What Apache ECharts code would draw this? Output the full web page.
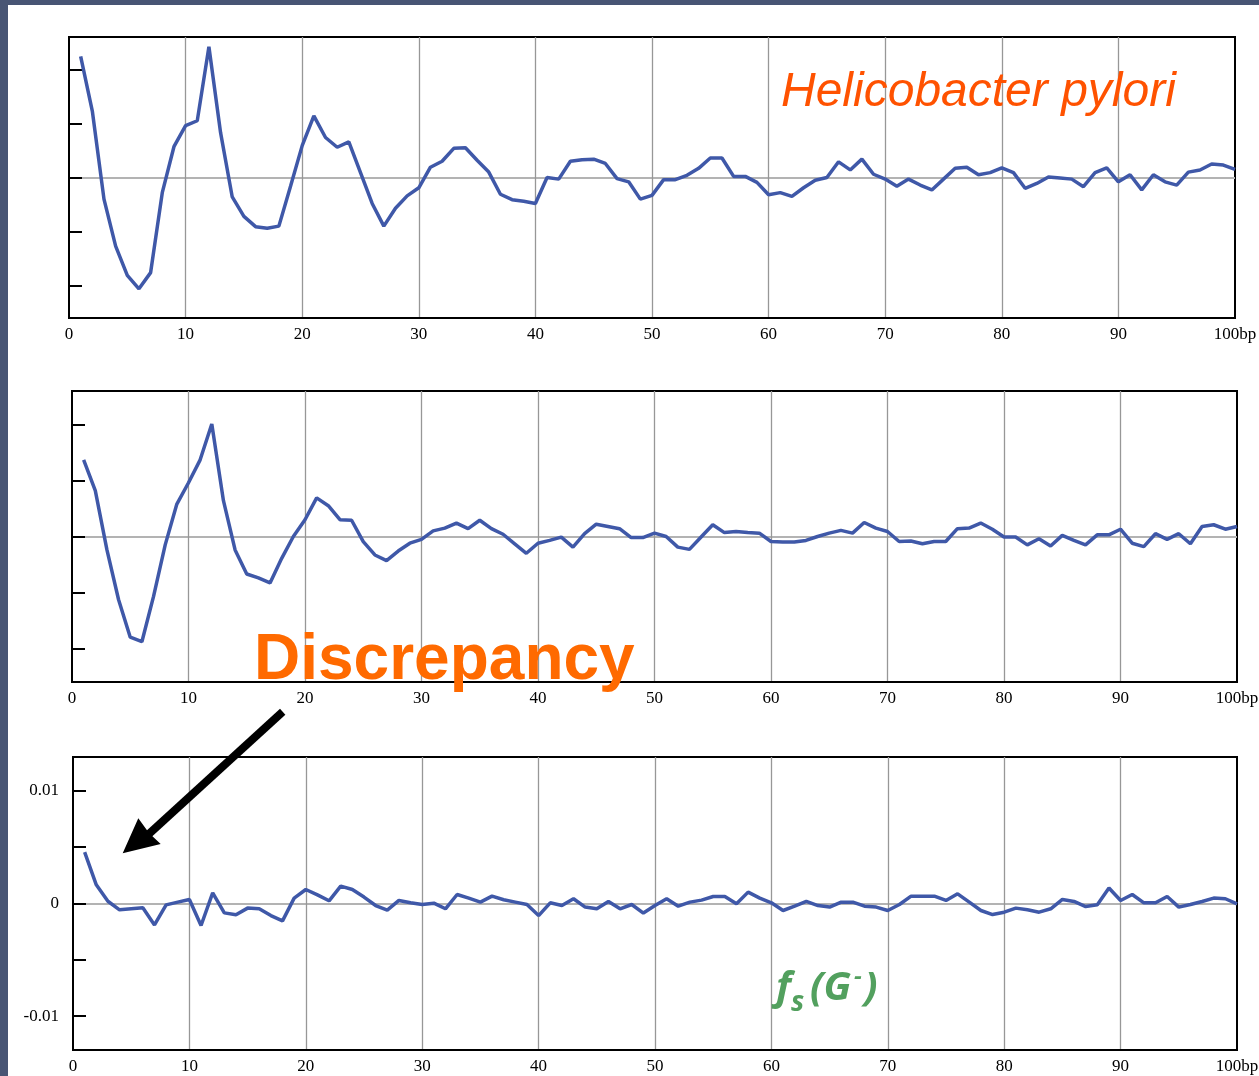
<!DOCTYPE html>
<html>
<head>
<meta charset="utf-8">
<style>
  html, body { margin: 0; padding: 0; background: #ffffff; }
  #chart { width: 1259px; height: 1076px; }
</style>
<script src="https://cdn.jsdelivr.net/npm/echarts@6/dist/echarts.min.js"></script>
</head>
<body>
<div id="chart"></div>
<script>
// Positions along the sequence (bp)
const positions = [1,2,3,4,5,6,7,8,9,10,11,12,13,14,15,16,17,18,19,20,
  21,22,23,24,25,26,27,28,29,30,31,32,33,34,35,36,37,38,39,40,
  41,42,43,44,45,46,47,48,49,50,51,52,53,54,55,56,57,58,59,60,
  61,62,63,64,65,66,67,68,69,70,71,72,73,74,75,76,77,78,79,80,
  81,82,83,84,85,86,87,88,89,90,91,92,93,94,95,96,97,98,99,100];

// Top panel (Helicobacter pylori), arbitrary units (1 = one tick)
const helicoValues = [2.24,1.23,-0.40,-1.27,-1.81,-2.06,-1.76,-0.28,0.57,0.96,
  1.05,2.42,0.83,-0.36,-0.72,-0.91,-0.94,-0.90,-0.16,0.59,
  1.14,0.74,0.56,0.66,0.09,-0.48,-0.90,-0.57,-0.34,-0.19,
  0.19,0.30,0.54,0.55,0.32,0.10,-0.31,-0.41,-0.44,-0.48,
  0.00,-0.03,0.30,0.33,0.34,0.26,-0.02,-0.08,-0.40,-0.33,
  -0.04,-0.04,0.04,0.17,0.36,0.36,0.02,0.02,-0.09,-0.32,
  -0.28,-0.35,-0.19,-0.05,0.00,0.29,0.14,0.34,0.06,-0.03,
  -0.16,-0.03,-0.14,-0.23,-0.03,0.17,0.19,0.05,0.09,0.18,
  0.09,-0.20,-0.11,0.01,-0.01,-0.03,-0.17,0.09,0.18,-0.08,
  0.05,-0.23,0.05,-0.08,-0.14,0.10,0.14,0.25,0.23,0.15];

// Middle panel, arbitrary units (1 = one tick)
const middleValues = [1.37,0.82,-0.24,-1.13,-1.80,-1.88,-1.07,-0.15,0.58,0.96,
  1.37,2.01,0.64,-0.24,-0.67,-0.74,-0.83,-0.39,0.00,0.30,
  0.69,0.55,0.30,0.29,-0.09,-0.33,-0.43,-0.26,-0.12,-0.05,
  0.10,0.15,0.24,0.14,0.29,0.14,0.04,-0.13,-0.30,-0.12,
  -0.07,-0.01,-0.19,0.05,0.22,0.18,0.14,-0.02,-0.02,0.06,
  0.00,-0.19,-0.23,-0.01,0.21,0.07,0.09,0.07,0.06,-0.09,
  -0.10,-0.10,-0.07,0.00,0.06,0.11,0.06,0.25,0.15,0.09,
  -0.09,-0.08,-0.13,-0.09,-0.09,0.14,0.15,0.24,0.13,-0.01,
  -0.01,-0.15,-0.04,-0.17,0.02,-0.07,-0.15,0.03,0.03,0.13,
  -0.12,-0.18,0.05,-0.05,0.05,-0.13,0.18,0.21,0.13,0.18];

// Bottom panel f_s(G-)
const fsValues = [0.00456,0.00166,0.0002,-0.00056,-0.00047,-0.00038,-0.0019,-0.00012,0.00012,0.00036,
  -0.00195,0.00095,-0.00083,-0.001,-0.00041,-0.00047,-0.00107,-0.00154,0.00048,0.00124,
  0.00077,0.00024,0.00154,0.00124,0.00057,-0.00018,-0.00059,0.00027,0.00006,-0.00009,
  0.00003,-0.00047,0.0008,0.00048,0.00012,0.00065,0.00033,0.00012,-0.00009,-0.00107,
  0.00006,-0.00018,0.00042,-0.00032,-0.00047,0.00018,-0.00047,-0.00009,-0.00085,-0.00018,
  0.00042,-0.00024,0.00012,0.0003,0.00062,0.00062,-0.00003,0.00101,0.00048,0.00006,
  -0.00062,-0.00024,0.00018,-0.00018,-0.00032,0.00012,0.00012,-0.00024,-0.00032,-0.00062,
  -0.00009,0.00065,0.00065,0.00065,0.00027,0.00086,0.00012,-0.00062,-0.00098,-0.00077,
  -0.00041,-0.00056,-0.00077,-0.00047,0.00036,0.00018,-0.00027,-0.00012,0.00137,0.00027,
  0.0008,0.00006,0.00006,0.00062,-0.00032,-0.00009,0.00018,0.00048,0.00042,-0.00003];

// Axis ticks / labels
const xTickValues = [0,10,20,30,40,50,60,70,80,90,100];
const topTicks = [-2,-1,0,1,2];
const bottomTicks = [-0.01,-0.005,0,0.005,0.01];
const bottomTickLabels = [-0.01,0,0.01];
const bottomLabelText = {'-0.01':'-0.01','0':'0','0.01':'0.01'};

const LINE_COLOR = '#3f58a8';
const SERIF = "'Liberation Serif','Times New Roman',serif";

function pairs(vals){ return positions.map((p,i)=>[p, vals[i]]); }

function xAxisFor(gi){
  return {
    type:'value', gridIndex:gi, min:0, max:100, interval:10, position:'bottom',
    axisLine:{show:true, onZero:false, lineStyle:{color:'#000', width:2}},
    axisTick:{show:false},
    axisLabel:{
      color:'#000', fontFamily:SERIF, fontSize:17, margin:8,
      customValues:xTickValues,
      formatter:(v)=> v===100 ? '100bp' : String(v)
    },
    splitLine:{show:true, showMinLine:false, showMaxLine:false, lineStyle:{color:'#979797', width:1.3}}
  };
}
function yAxisMain(gi, min, max, ticks, labels){
  return {
    type:'value', gridIndex:gi, min:min, max:max, position:'left',
    axisLine:{show:true, onZero:false, lineStyle:{color:'#000', width:2}},
    axisTick:{show:true, inside:true, length:13, customValues:ticks, lineStyle:{color:'#000', width:2}},
    axisLabel: labels ? {
      show:true, color:'#000', fontFamily:SERIF, fontSize:17, margin:14,
      customValues:labels,
      formatter:(v)=> bottomLabelText[String(Math.round(v*1000)/1000)] ?? String(v)
    } : {show:false},
    splitLine:{show:false}
  };
}
function yAxisZero(gi){
  return {
    type:'value', gridIndex:gi, min:-1, max:1, interval:1, position:'left',
    axisLine:{show:false, onZero:false}, axisTick:{show:false}, axisLabel:{show:false},
    splitLine:{show:true, showMinLine:false, showMaxLine:false, lineStyle:{color:'#b3b3b3', width:2}}
  };
}

const chart = echarts.init(document.getElementById('chart'), null, {renderer:'canvas'});

const gridBase = {show:true, borderColor:'#000', borderWidth:2, backgroundColor:'transparent', containLabel:false, outerBoundsMode:'none'};

const option = {
  animation:false,
  backgroundColor:'#ffffff',
  grid:[
    Object.assign({left:69, top:37, width:1166, height:281}, gridBase),
    Object.assign({left:72, top:391, width:1165, height:291}, gridBase),
    Object.assign({left:73, top:757, width:1164, height:293}, gridBase)
  ],
  xAxis:[xAxisFor(0), xAxisFor(1), xAxisFor(2)],
  yAxis:[
    yAxisZero(0), yAxisMain(0, -2.6, 2.6, topTicks, null),
    yAxisZero(1), yAxisMain(1, -2.6, 2.6, topTicks, null),
    yAxisZero(2), yAxisMain(2, -0.0130, 0.0130, bottomTicks, bottomTickLabels)
  ],
  series:[
    {type:'line', xAxisIndex:0, yAxisIndex:1, data:pairs(helicoValues), showSymbol:false, symbol:'none', z:5,
      lineStyle:{color:LINE_COLOR, width:3.5}},
    {type:'line', xAxisIndex:1, yAxisIndex:3, data:pairs(middleValues), showSymbol:false, symbol:'none', z:5,
      lineStyle:{color:LINE_COLOR, width:3.5}},
    {type:'line', xAxisIndex:2, yAxisIndex:5, data:pairs(fsValues), showSymbol:false, symbol:'none', z:5,
      lineStyle:{color:LINE_COLOR, width:3.5}}
  ],
  graphic:[
    {type:'rect', left:0, top:0, shape:{x:0,y:0,width:1259,height:5}, style:{fill:'#485574'}, z:100},
    {type:'rect', left:0, top:0, shape:{x:0,y:0,width:8,height:1076}, style:{fill:'#485574'}, z:100},
    {type:'text', x:781, y:93, z:100, style:{text:'Helicobacter pylori', fill:'#ff5200',
      font:"italic 48px 'Liberation Sans', Arial, sans-serif", textVerticalAlign:'middle', textAlign:'left'}},
    {type:'text', x:254, y:661, z:100, style:{text:'Discrepancy', fill:'#ff6a00',
      font:"bold 64px 'Liberation Sans', Arial, sans-serif", textVerticalAlign:'middle', textAlign:'left'}},
    {type:'text', x:776, y:989, z:100, style:{text:'f', fill:'#52a05e',
      font:"italic bold 40px 'Open Sans', sans-serif", textVerticalAlign:'middle', textAlign:'left'}},
    {type:'text', x:791, y:1003, z:100, style:{text:'s', fill:'#52a05e',
      font:"italic bold 28px 'Open Sans', sans-serif", textVerticalAlign:'middle', textAlign:'left'}},
    {type:'text', x:810, y:989, z:100, style:{text:'(G', fill:'#52a05e',
      font:"italic bold 40px 'Open Sans', sans-serif", textVerticalAlign:'middle', textAlign:'left'}},
    {type:'text', x:854, y:977, z:100, style:{text:'-', fill:'#52a05e',
      font:"italic bold 24px 'Open Sans', sans-serif", textVerticalAlign:'middle', textAlign:'left'}},
    {type:'text', x:864, y:989, z:100, style:{text:')', fill:'#52a05e',
      font:"italic bold 40px 'Open Sans', sans-serif", textVerticalAlign:'middle', textAlign:'left'}},
    {type:'line', z:100, shape:{x1:282.7, y1:711.7, x2:145, y2:837.5}, style:{stroke:'#000', lineWidth:8}},
    {type:'polygon', z:100, shape:{points:[[122.7,853.3],[138.3,818.3],[149,833],[160.7,844]]}, style:{fill:'#000'}}
  ]
};
chart.setOption(option);
</script>
</body>
</html>
